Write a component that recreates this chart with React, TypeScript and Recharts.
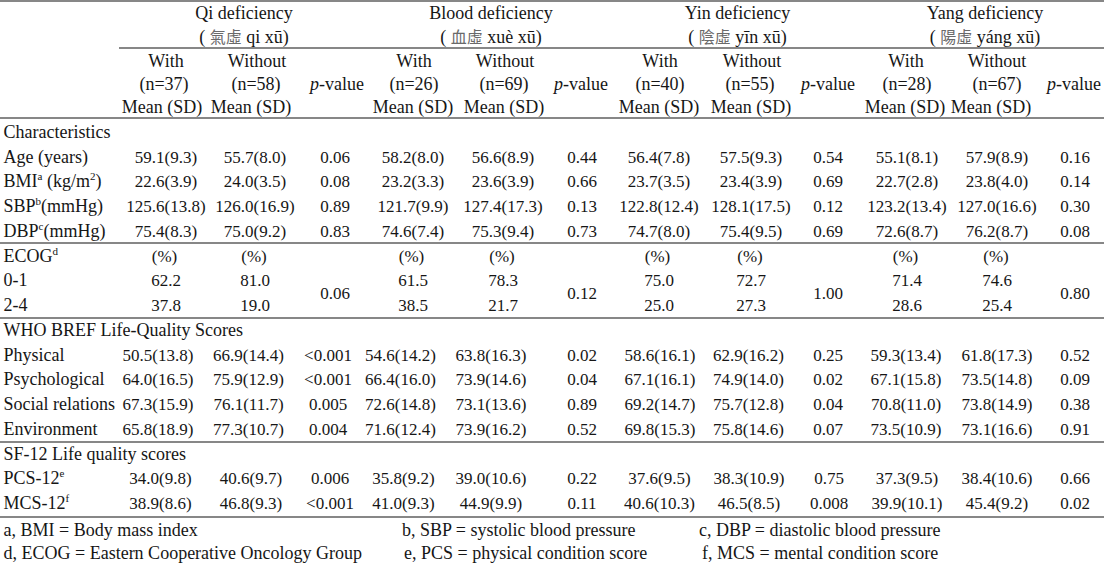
import React from 'react';
import { ScatterChart, Scatter, XAxis, YAxis, ReferenceLine } from 'recharts';

// ---------------- data ----------------
const groupNames = ['Qi deficiency', 'Blood deficiency', 'Yin deficiency', 'Yang deficiency'];
const groupHanzi = ['氣虛', '血虛', '陰虛', '陽虛'];
const groupPinyin = ['qi xū', 'xuè xū', 'yīn xū', 'yáng xū'];
const nWith = [37, 26, 40, 28];
const nWithout = [58, 69, 55, 67];

const sectionTitles = ['Characteristics', 'WHO BREF Life-Quality Scores', 'SF-12 Life quality scores'];
const charLabels = ['Age (years)', 'BMI^{a} (kg/m^{2})', 'SBP^{b}(mmHg)', 'DBP^{c}(mmHg)'];
const ecogLabel = 'ECOG^{d}';
const ecogLevels = ['0-1', '2-4'];
const whoLabels = ['Physical', 'Psychological', 'Social relations', 'Environment'];
const sfLabels = ['PCS-12^{e}', 'MCS-12^{f}'];

// variable order: Age, BMI, SBP, DBP, Physical, Psychological, Social relations, Environment, PCS-12, MCS-12
const qiWithMean = [59.1, 22.6, 125.6, 75.4, 50.5, 64.0, 67.3, 65.8, 34.0, 38.9];
const qiWithSD = [9.3, 3.9, 13.8, 8.3, 13.8, 16.5, 15.9, 18.9, 9.8, 8.6];
const qiWithoutMean = [55.7, 24.0, 126.0, 75.0, 66.9, 75.9, 76.1, 77.3, 40.6, 46.8];
const qiWithoutSD = [8.0, 3.5, 16.9, 9.2, 14.4, 12.9, 11.7, 10.7, 9.7, 9.3];
const qiP = ['0.06', '0.08', '0.89', '0.83', '<0.001', '<0.001', '0.005', '0.004', '0.006', '<0.001'];

const bloodWithMean = [58.2, 23.2, 121.7, 74.6, 54.6, 66.4, 72.6, 71.6, 35.8, 41.0];
const bloodWithSD = [8.0, 3.3, 9.9, 7.4, 14.2, 16.0, 14.8, 12.4, 9.2, 9.3];
const bloodWithoutMean = [56.6, 23.6, 127.4, 75.3, 63.8, 73.9, 73.1, 73.9, 39.0, 44.9];
const bloodWithoutSD = [8.9, 3.9, 17.3, 9.4, 16.3, 14.6, 13.6, 16.2, 10.6, 9.9];
const bloodP = ['0.44', '0.66', '0.13', '0.73', '0.02', '0.04', '0.89', '0.52', '0.22', '0.11'];

const yinWithMean = [56.4, 23.7, 122.8, 74.7, 58.6, 67.1, 69.2, 69.8, 37.6, 40.6];
const yinWithSD = [7.8, 3.5, 12.4, 8.0, 16.1, 16.1, 14.7, 15.3, 9.5, 10.3];
const yinWithoutMean = [57.5, 23.4, 128.1, 75.4, 62.9, 74.9, 75.7, 75.8, 38.3, 46.5];
const yinWithoutSD = [9.3, 3.9, 17.5, 9.5, 16.2, 14.0, 12.8, 14.6, 10.9, 8.5];
const yinP = ['0.54', '0.69', '0.12', '0.69', '0.25', '0.02', '0.04', '0.07', '0.75', '0.008'];

const yangWithMean = [55.1, 22.7, 123.2, 72.6, 59.3, 67.1, 70.8, 73.5, 37.3, 39.9];
const yangWithSD = [8.1, 2.8, 13.4, 8.7, 13.4, 15.8, 11.0, 10.9, 9.5, 10.1];
const yangWithoutMean = [57.9, 23.8, 127.0, 76.2, 61.8, 73.5, 73.8, 73.1, 38.4, 45.4];
const yangWithoutSD = [8.9, 4.0, 16.6, 8.7, 17.3, 14.8, 14.9, 16.6, 10.6, 9.2];
const yangP = ['0.16', '0.14', '0.30', '0.08', '0.52', '0.09', '0.38', '0.91', '0.66', '0.02'];

// ECOG percentages: [0-1, 2-4]
const qiEcogWith = [62.2, 37.8];
const qiEcogWithout = [81.0, 19.0];
const bloodEcogWith = [61.5, 38.5];
const bloodEcogWithout = [78.3, 21.7];
const yinEcogWith = [75.0, 25.0];
const yinEcogWithout = [72.7, 27.3];
const yangEcogWith = [71.4, 28.6];
const yangEcogWithout = [74.6, 25.4];
const ecogP = ['0.06', '0.12', '1.00', '0.80'];

const footnotes = [
  'a, BMI = Body mass index',
  'b, SBP = systolic blood pressure',
  'c, DBP = diastolic blood pressure',
  'd, ECOG = Eastern Cooperative Oncology Group',
  'e, PCS = physical condition score',
  'f, MCS = mental condition score',
];

// ---------------- layout ----------------
const W = 1104;
const H = 567;
const FONT = "'Liberation Serif', 'Times New Roman', serif";
const INK = '#161616';
const TEXT_SIZE = 18;
const NUM_SIZE = 17;

const groupMeans = [
  [qiWithMean, qiWithSD, qiWithoutMean, qiWithoutSD, qiP],
  [bloodWithMean, bloodWithSD, bloodWithoutMean, bloodWithoutSD, bloodP],
  [yinWithMean, yinWithSD, yinWithoutMean, yinWithoutSD, yinP],
  [yangWithMean, yangWithSD, yangWithoutMean, yangWithoutSD, yangP],
] as const;
const groupEcog = [
  [qiEcogWith, qiEcogWithout],
  [bloodEcogWith, bloodEcogWithout],
  [yinEcogWith, yinEcogWithout],
  [yangEcogWith, yangEcogWithout],
];

// column centers per block: [with, without, p] per group
const colsChar = [[166, 255, 335], [413, 503, 582], [659, 751, 828], [907, 997, 1075]];
const colsWho = [[158, 248.5, 328], [400.5, 491, 582], [660, 748.5, 828], [906, 997, 1075]];
const colsSf = [[160.5, 251, 330], [403.5, 491, 582], [659.5, 749, 829], [907, 997, 1075]];
const hdrTitleX = [244, 491, 737.5, 985];
const hdrWithX = [166, 414, 660, 906];
const hdrNWithX = [164, 414, 660, 907];
const hdrMeanWithX = [162, 413, 659, 905];
const hdrWithoutX = [257, 505, 752, 997];
const hdrNWithoutX = [256, 504, 750, 997];
const hdrMeanWithoutX = [251, 504, 751, 991];
const hdrPX = [337, 581, 828, 1074];
const LABEL_X = 3.5;
const footX = [3.5, 402, 699, 3.5, 404, 702];
const footY = [535.5, 535.5, 535.5, 559, 559, 559];

const HDR_Y = [19.3, 43, 66.5, 89.5, 112.5];
const BODY_Y0 = 137.8;
const PITCH = 24.75;
const rowY = (k: number) => BODY_Y0 + PITCH * k;

type Cell = {
  x: number;
  y: number;
  text: string;
  anchor: 'start' | 'middle' | 'end';
  kind?: 'pval' | 'cjk' | 'num';
  g?: number;
};

const fmt = (m: number, s: number) => `${m.toFixed(1)}(${s.toFixed(1)})`;

const cells: Cell[] = [];
// header
groupNames.forEach((name, g) => {
  cells.push({ x: hdrTitleX[g], y: HDR_Y[0], text: name, anchor: 'middle' });
  cells.push({ x: hdrTitleX[g], y: HDR_Y[1], text: '', anchor: 'middle', kind: 'cjk', g });
  cells.push({ x: hdrWithX[g], y: HDR_Y[2], text: 'With', anchor: 'middle' });
  cells.push({ x: hdrWithoutX[g], y: HDR_Y[2], text: 'Without', anchor: 'middle' });
  cells.push({ x: hdrNWithX[g], y: HDR_Y[3], text: `(n=${nWith[g]})`, anchor: 'middle' });
  cells.push({ x: hdrNWithoutX[g], y: HDR_Y[3], text: `(n=${nWithout[g]})`, anchor: 'middle' });
  cells.push({ x: hdrPX[g], y: HDR_Y[3], text: 'p-value', anchor: 'middle', kind: 'pval' });
  cells.push({ x: hdrMeanWithX[g], y: HDR_Y[4], text: 'Mean (SD)', anchor: 'middle' });
  cells.push({ x: hdrMeanWithoutX[g], y: HDR_Y[4], text: 'Mean (SD)', anchor: 'middle' });
});

// body labels
const leftLabels: [number, string][] = [
  [0, sectionTitles[0]],
  ...charLabels.map((l, i) => [1 + i, l] as [number, string]),
  [5, ecogLabel],
  ...ecogLevels.map((l, i) => [6 + i, l] as [number, string]),
  [8, sectionTitles[1]],
  ...whoLabels.map((l, i) => [9 + i, l] as [number, string]),
  [13, sectionTitles[2]],
  ...sfLabels.map((l, i) => [14 + i, l] as [number, string]),
];
leftLabels.forEach(([k, l]) => cells.push({ x: LABEL_X, y: rowY(k), text: l, anchor: 'start' }));

// measured rows: variable index -> body row, column set
const varRows = [1, 2, 3, 4, 9, 10, 11, 12, 14, 15];
const varCols = [colsChar, colsChar, colsChar, colsChar, colsWho, colsWho, colsWho, colsWho, colsSf, colsSf];
groupMeans.forEach(([wm, ws, om, os, p], g) => {
  varRows.forEach((k, v) => {
    const c = varCols[v][g];
    cells.push({ x: c[0], y: rowY(k), text: fmt(wm[v], ws[v]), anchor: 'middle', kind: 'num' });
    cells.push({ x: c[1], y: rowY(k), text: fmt(om[v], os[v]), anchor: 'middle', kind: 'num' });
    cells.push({ x: c[2], y: rowY(k), text: p[v], anchor: 'middle', kind: 'num' });
  });
  const c = colsChar[g];
  const [ew, eo] = groupEcog[g];
  cells.push({ x: c[0] - 1.5, y: rowY(5), text: '(%)', anchor: 'middle', kind: 'num' });
  cells.push({ x: c[1] - 1, y: rowY(5), text: '(%)', anchor: 'middle', kind: 'num' });
  ecogLevels.forEach((_, i) => {
    cells.push({ x: c[0], y: rowY(6 + i), text: ew[i].toFixed(1), anchor: 'middle', kind: 'num' });
    cells.push({ x: c[1], y: rowY(6 + i), text: eo[i].toFixed(1), anchor: 'middle', kind: 'num' });
  });
  cells.push({ x: c[2], y: (rowY(6) + rowY(7)) / 2, text: ecogP[g], anchor: 'middle', kind: 'num' });
});

footnotes.forEach((f, i) => cells.push({ x: footX[i], y: footY[i], text: f, anchor: 'start' }));

// ---------------- rendering ----------------
const renderSegments = (text: string) => {
  const parts = text.split(/\^\{([^}]*)\}/);
  const out: React.ReactNode[] = [];
  let shifted = false;
  parts.forEach((p, i) => {
    if (i % 2 === 1) {
      out.push(
        <tspan key={i} dy={-7} fontSize={11}>
          {p}
        </tspan>
      );
      shifted = true;
    } else if (p.length) {
      out.push(
        <tspan key={i} dy={shifted ? 7 : 0}>
          {p}
        </tspan>
      );
      shifted = false;
    }
  });
  return out;
};

const CellShape = (props: any) => {
  const { cx, cy, payload } = props;
  const c: Cell = payload;
  let content: React.ReactNode;
  if (c.kind === 'pval') {
    content = (
      <>
        <tspan fontStyle="italic">p</tspan>
        <tspan>-value</tspan>
      </>
    );
  } else if (c.kind === 'cjk') {
    const g = c.g as number;
    content = (
      <>
        <tspan>{'( '}</tspan>
        <tspan fontFamily="'Noto Sans CJK TC', sans-serif" fontSize={16} fill="#6a6a6a">
          {groupHanzi[g]}
        </tspan>
        <tspan>{` ${groupPinyin[g]})`}</tspan>
      </>
    );
  } else {
    content = renderSegments(c.text);
  }
  return (
    <text
      x={cx}
      y={cy}
      textAnchor={c.anchor}
      fontFamily={FONT}
      fontSize={c.kind === 'num' ? NUM_SIZE : TEXT_SIZE}
      fill={INK}
      style={{ whiteSpace: 'pre' }}
    >
      {content}
    </text>
  );
};

const hLines = [1, 118, 243, 318, 442, 517];

export default function App() {
  return (
    <div style={{ position: 'fixed', left: 0, top: 0, width: W, height: H, background: '#fff' }}>
      <ScatterChart width={W} height={H} margin={{ top: 0, right: 0, bottom: 0, left: 0 }}>
        <XAxis type="number" dataKey="x" domain={[0, W]} allowDataOverflow hide />
        <YAxis type="number" dataKey="y" domain={[0, H]} allowDataOverflow reversed hide />
        {hLines.map((y) => (
          <ReferenceLine key={y} y={y} stroke="#111" strokeWidth={1.2} ifOverflow="visible" />
        ))}
        <ReferenceLine
          segment={[
            { x: 119, y: 48 },
            { x: W, y: 48 },
          ]}
          stroke="#111"
          strokeWidth={1.2}
          ifOverflow="visible"
        />
        <Scatter data={cells} shape={CellShape} isAnimationActive={false} />
      </ScatterChart>
    </div>
  );
}
